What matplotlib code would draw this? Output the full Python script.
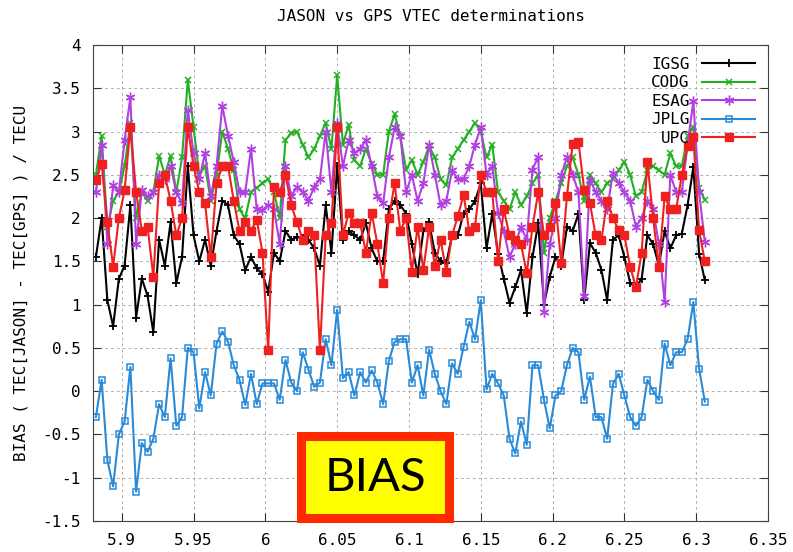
# JASON vs GPS VTEC determinations (BIAS)
import matplotlib
matplotlib.use("Agg")
import matplotlib.pyplot as plt
from matplotlib.patches import Rectangle

x = [5.882, 5.886, 5.890, 5.894, 5.898, 5.902, 5.906, 5.910, 5.914, 5.918,
     5.922, 5.926, 5.930, 5.934, 5.938, 5.942, 5.946, 5.950, 5.954, 5.958,
     5.962, 5.966, 5.970, 5.974, 5.978, 5.982, 5.986, 5.990, 5.994, 5.998,
     6.002, 6.006, 6.010, 6.014, 6.018, 6.022, 6.026, 6.030, 6.034, 6.038,
     6.042, 6.046, 6.050, 6.054, 6.058, 6.062, 6.066, 6.070, 6.074, 6.078,
     6.082, 6.086, 6.090, 6.094, 6.098, 6.102, 6.106, 6.110, 6.114, 6.118,
     6.122, 6.126, 6.130, 6.134, 6.138, 6.142, 6.146, 6.150, 6.154, 6.158,
     6.162, 6.166, 6.170, 6.174, 6.178, 6.182, 6.186, 6.190, 6.194, 6.198,
     6.202, 6.206, 6.210, 6.214, 6.218, 6.222, 6.226, 6.230, 6.234, 6.238,
     6.242, 6.246, 6.250, 6.254, 6.258, 6.262, 6.266, 6.270, 6.274, 6.278,
     6.282, 6.286, 6.290, 6.294, 6.298, 6.302, 6.306]

igsg = [1.55, 2.0, 1.05, 0.75, 1.3, 1.45, 2.15, 0.85, 1.3, 1.1,
        0.68, 1.75, 1.45, 1.95, 1.25, 1.55, 2.6, 1.8, 1.5, 1.75,
        1.45, 1.85, 2.2, 2.15, 1.8, 1.7, 1.4, 1.55, 1.42, 1.35,
        1.15, 1.6, 1.5, 1.85, 1.75, 1.78, 1.77, 1.75, 1.65, 1.45,
        2.15, 1.6, 2.6, 1.75, 1.85, 1.8, 1.75, 1.94, 1.65, 1.5,
        1.5, 2.1, 2.2, 2.15, 2.05, 1.7, 1.35, 1.85, 1.95, 1.6,
        1.5, 1.48, 1.8, 1.8, 2.05, 2.1, 2.2, 2.4, 1.65, 2.05,
        1.59, 1.3, 1.02, 1.2, 1.4, 0.9, 1.55, 1.94, 1.0, 1.32,
        1.55, 1.45, 1.9, 1.85, 2.05, 1.05, 1.71, 1.6, 1.4, 1.05,
        1.75, 1.8, 1.55, 1.25, 1.2, 1.3, 1.8, 1.7, 1.45, 1.85,
        1.65, 1.8, 1.82, 2.15, 2.59, 1.59, 1.28]

codg = [2.5, 2.95, 1.9, 2.2, 2.3, 2.6, 3.1, 2.0, 2.3, 2.2,
        2.3, 2.72, 2.5, 2.72, 2.3, 2.7, 3.6, 3.05, 2.5, 2.6,
        2.2, 2.5, 3.0, 2.8, 2.55, 2.1, 2.0, 2.3, 2.35, 2.4,
        2.45, 2.3, 2.0, 2.9, 2.98, 3.0, 2.85, 2.7, 2.8, 2.95,
        3.1, 2.8, 3.65, 2.85, 3.08, 2.67, 2.6, 2.8, 2.63, 2.5,
        2.5, 3.0, 3.2, 2.95, 2.56, 2.67, 2.5, 2.65, 2.83, 2.7,
        2.45, 2.38, 2.7, 2.8, 2.9, 3.0, 3.1, 3.0, 2.7, 2.85,
        2.3, 2.2, 2.1, 2.3, 2.15, 2.25, 2.4, 2.5, 1.6, 2.0,
        2.2, 2.4, 2.6, 2.7, 2.5, 2.2, 2.5, 2.4, 2.3, 2.4,
        2.45, 2.55, 2.65, 2.5, 2.25, 2.3, 2.55, 2.6, 2.55, 2.5,
        2.75, 2.6, 2.6, 2.95, 3.05, 2.35, 2.21]

esag = [2.3, 2.85, 1.7, 2.38, 2.3, 2.9, 3.4, 1.7, 2.32, 2.25,
        2.3, 2.5, 2.45, 2.6, 2.3, 2.17, 3.25, 2.75, 2.45, 2.75,
        2.25, 2.6, 3.3, 2.95, 2.65, 2.3, 2.3, 2.8, 2.1, 2.09,
        2.15, 2.1, 1.7, 2.6, 2.25, 2.36, 2.3, 2.2, 2.36, 2.45,
        3.0, 2.3, 3.1, 2.6, 2.9, 2.75, 2.8, 2.9, 2.6, 2.25,
        2.17, 2.7, 3.05, 2.95, 2.3, 2.5, 2.2, 2.4, 2.85, 2.5,
        2.15, 2.2, 2.55, 2.45, 2.45, 2.6, 2.85, 3.05, 2.5, 2.6,
        2.06, 1.85, 1.55, 1.7, 1.9, 1.75, 2.56, 2.71, 0.92, 1.7,
        2.0, 2.5, 2.7, 2.5, 2.3, 1.1, 2.44, 2.3, 2.2, 2.1,
        2.52, 2.4, 2.3, 2.2, 1.9, 2.0, 2.2, 2.1, 1.7, 1.03,
        2.5, 2.3, 2.3, 2.85, 3.35, 2.3, 1.72]

jplg = [-0.3, 0.13, -0.8, -1.1, -0.5, -0.35, 0.28, -1.16, -0.6, -0.7,
        -0.55, -0.15, -0.3, 0.38, -0.4, -0.3, 0.5, 0.45, -0.2, 0.22,
        -0.05, 0.55, 0.69, 0.57, 0.3, 0.13, -0.16, 0.2, -0.15, 0.09,
        0.09, 0.09, -0.1, 0.36, 0.1, 0.0, 0.45, 0.25, 0.05, 0.1,
        0.6, 0.3, 0.94, 0.15, 0.22, -0.05, 0.22, 0.1, 0.24, 0.1,
        -0.15, 0.35, 0.57, 0.6, 0.6, 0.1, 0.3, -0.05, 0.48, 0.2,
        0.0, -0.15, 0.32, 0.2, 0.51, 0.8, 0.6, 1.05, 0.02, 0.2,
        0.09, -0.05, -0.55, -0.72, -0.35, -0.62, 0.3, 0.3, -0.1, -0.43,
        -0.05, 0.0, 0.3, 0.5, 0.45, -0.1, 0.17, -0.3, -0.3, -0.55,
        0.08, 0.2, -0.05, -0.3, -0.4, -0.3, 0.13, 0.0, -0.1, 0.55,
        0.3, 0.45, 0.45, 0.6, 1.03, 0.26, -0.12]

upc = [2.44, 2.63, 1.95, 1.44, 2.0, 2.32, 3.05, 2.3, 1.85, 1.9,
       1.32, 2.4, 2.5, 2.2, 1.8, 2.0, 3.05, 2.6, 2.3, 2.17,
       1.55, 2.4, 2.6, 2.6, 2.2, 1.85, 1.95, 1.85, 1.98, 1.6,
       0.47, 2.36, 2.3, 2.5, 2.15, 1.95, 1.75, 1.85, 1.8, 0.47,
       1.8, 1.94, 3.05, 1.8, 2.06, 1.94, 1.94, 1.6, 2.06, 1.7,
       1.25, 2.0, 2.4, 1.85, 2.0, 1.38, 1.9, 1.4, 1.9, 1.45,
       1.75, 1.38, 1.8, 2.02, 2.27, 1.85, 1.9, 2.5, 2.3, 2.3,
       1.5, 2.1, 1.8, 1.75, 1.7, 1.36, 1.9, 2.3, 1.8, 1.9,
       2.17, 1.48, 2.25, 2.86, 2.88, 2.33, 2.17, 1.8, 1.75, 2.2,
       2.0, 1.86, 1.8, 1.44, 1.2, 1.6, 2.65, 2.0, 1.44, 2.25,
       2.1, 2.1, 2.5, 2.83, 2.94, 1.86, 1.5]

xticks = [5.9, 5.95, 6.0, 6.05, 6.1, 6.15, 6.2, 6.25, 6.3, 6.35]
xticklabels = ["5.9", "5.95", "6", "6.05", "6.1", "6.15", "6.2", "6.25", "6.3", "6.35"]
yticks = [-1.5, -1, -0.5, 0, 0.5, 1, 1.5, 2, 2.5, 3, 3.5, 4]
yticklabels = ["-1.5", "-1", "-0.5", "0", "0.5", "1", "1.5", "2", "2.5", "3", "3.5", "4"]

mono = "DejaVu Sans Mono"

fig = plt.figure(figsize=(7.93, 5.52), dpi=100)
ax = fig.add_axes([0.1173, 0.0562, 0.8512, 0.8623])

ax.plot(x, igsg, color="black", lw=1.5, marker="+", ms=6, mew=1.3, label="IGSG")
ax.plot(x, codg, color="#22b022", lw=1.5, marker="x", ms=5, mew=1.1, label="CODG")
ax.plot(x, esag, color="#b040e0", lw=1.5, marker=(6, 2, 0), ms=7, mew=1.0, label="ESAG")
ax.plot(x, jplg, color="#2a8ad8", lw=1.5, marker="s", ms=5, mfc="none", mew=1.1, label="JPLG")
ax.plot(x, upc, color="#ee2020", lw=1.5, marker="s", ms=6, label="UPC")

ax.set_xlim(5.88, 6.35)
ax.set_ylim(-1.5, 4)
ax.set_xticks(xticks)
ax.set_xticklabels(xticklabels, family=mono, fontsize=11.5)
ax.set_yticks(yticks)
ax.set_yticklabels(yticklabels, family=mono, fontsize=11.5)
ax.tick_params(direction="in", length=6, top=True, right=True, pad=9, color="#333333")
ax.grid(True, color="#b0b0b0", lw=0.7, ls=(0, (3, 3)))
for s in ax.spines.values():
    s.set_color("#444444")

ax.set_title("JASON vs GPS VTEC determinations", family=mono, fontsize=11.5, pad=17)
ax.set_ylabel("BIAS ( TEC[JASON] - TEC[GPS] ) / TECU", family=mono, fontsize=11.5, labelpad=10)

leg = ax.legend(loc="upper right", bbox_to_anchor=(0.995, 0.995), frameon=False,
                markerfirst=False, handlelength=3.3, labelspacing=0.22,
                prop={"family": mono, "size": 11.5}, borderaxespad=0.2)

# the yellow BIAS box drawn over the plot
box = Rectangle((0.379, 0.0607), 0.1866, 0.1486, transform=fig.transFigure,
                facecolor="#ffff00", edgecolor="#ff2a00", lw=6.5)
fig.add_artist(box)
fig.text(0.473, 0.134, "BIAS", family="Lato", fontsize=34, ha="center", va="center")

fig.savefig("out.png", dpi=100)
